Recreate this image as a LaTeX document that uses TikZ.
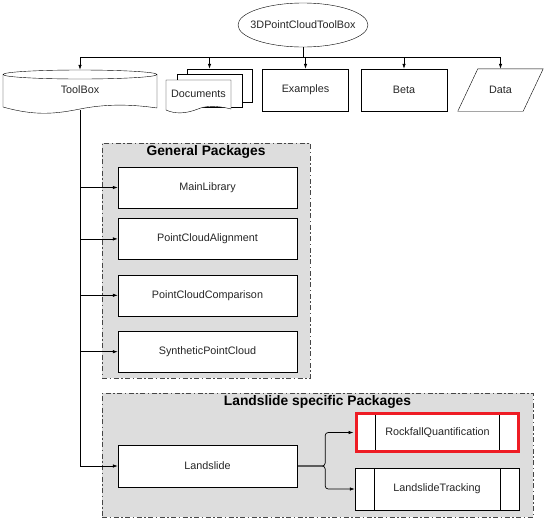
\documentclass[tikz,border=0pt]{standalone}
\usepackage{fontspec}
\setmainfont{Liberation Sans}
\usepackage{xcolor}
\usepackage{tikz}
\usetikzlibrary{calc, arrows.meta, positioning, shapes.geometric}
\definecolor{pkgfill}{RGB}{221,221,221}
\definecolor{pkgline}{RGB}{70,70,70}
\definecolor{markred}{RGB}{238,28,36}
\tikzset{
  txt/.style={font=\fontsize{10.8}{13}\selectfont, text=black!85},
  terminal/.style={ellipse,draw,txt,inner xsep=-14pt,minimum width=130pt,minimum height=44pt},
  plain/.style={rectangle,draw,txt,minimum width=86pt,minimum height=42pt},
  sheet/.style={rectangle,draw,fill=white,minimum width=65pt,minimum height=33pt},
  pkg/.style={rectangle,draw,fill=white,txt,minimum width=179pt,minimum height=41pt},
  proc/.style={rectangle,draw,fill=white,txt,minimum width=164pt,minimum height=42pt,
    path picture={
      \draw[black,line width=0.5pt] ([xshift=19pt]path picture bounding box.north west) -- ([xshift=19pt]path picture bounding box.south west);
      \draw[black,line width=0.5pt] ([xshift=-19pt]path picture bounding box.north east) -- ([xshift=-19pt]path picture bounding box.south east);}},
  group/.style={draw=pkgline,fill=pkgfill,line width=0.6pt,dash pattern=on 5pt off 2.5pt on 1.5pt off 2.5pt},
  grouptitle/.style={font=\fontsize{13.8}{16}\selectfont\bfseries},
  link/.style={-{Latex[length=5pt,width=3.5pt]}, line width=0.7pt}
}

\begin{document}
\begin{tikzpicture}[x=1pt,y=-1pt]
  \useasboundingbox (0,0) rectangle (550,523);
  \node[terminal] (Top) at (303,25) {3DPointCloudToolBox};
  \coordinate (Bus) at (303,57);

  \draw (3,74.5) -- (3,107) .. controls (35,116) and (55,114) .. (80,109) .. controls (105,104) and (130,104) .. (157,108) -- (157,74.5);
  \draw (80,74.5) ellipse [x radius=77pt, y radius=4.5pt];
  \node[txt, minimum width=154pt, minimum height=40pt] (Tool) at (80,90) {ToolBox};

  \node[sheet] (Doc3) at (219.5,85.5) {};
  \node[sheet] (Doc2) at (209.5,91) {};
  \draw[fill=white] (166,80) -- (231,80) -- (231,109) .. controls (215,105) and (205,106) .. (198,109) .. controls (185,114) and (175,114) .. (166,110) -- cycle;
  \node[txt] (Doc) at (198.5,94) {Documents};

  \node[plain] (Ex) at (305.5,90) {Examples};
  \node[plain] (Beta) at (404,90) {Beta};
  \node[txt, minimum width=65pt, minimum height=42pt] (Data) at (500.5,90) {Data};
  \draw ([xshift=-10pt]Data.south west) -- ([xshift=10pt]Data.north west) -- ([xshift=10pt]Data.north east) -- ([xshift=-10pt]Data.south east) -- cycle;

  \draw[line width=0.7pt] (Top.south) -- (Bus);
  \draw[line width=0.7pt] (Tool.north |- Bus) -- (Data.north |- Bus);
  \foreach \n in {Tool, Ex, Beta, Data}
    \draw[link] (\n.north |- Bus) -- (\n.north);
  \draw[link] (Doc2.north |- Bus) -- (Doc2.north |- Doc3.north);

  \node[group, minimum width=208pt, minimum height=235pt] (General) at (206,260.5) {};
  \node[grouptitle, below=-1pt of General.north] (GenTitle) {General Packages};
  \node[pkg] (Main) at (207.5,187.5) {MainLibrary};
  \node[pkg, below=10pt of Main] (Align) {PointCloudAlignment};
  \node[pkg, below=15pt of Align] (Comp) {PointCloudComparison};
  \node[pkg, below=15pt of Comp] (Syn) {SyntheticPointCloud};

  \node[group, minimum width=431pt, minimum height=124pt] (Slide) at (317.5,455) {};
  \node[grouptitle, below=-1pt of Slide.north] (SlideTitle) {Landslide specific Packages};
  \node[pkg, minimum height=42pt] (Land) at (207.5,466) {Landslide};
  \node[proc, draw=markred, line width=3pt, minimum width=162pt, minimum height=38pt] (Rock) at (437.5,432.5) {RockfallQuantification};
  \node[proc] (Track) at (437,489) {LandslideTracking};

  \draw[link] (Tool.south) |- (Land.west);
  \foreach \n in {Main, Align, Comp, Syn}
    \draw[link] (Tool.south |- \n.west) -- (\n.west);
  \coordinate (Split) at ([xshift=28pt]Land.east);
  \draw[link, rounded corners=3pt, shorten >=1.5pt] (Land.east) -- (Split) |- (Rock.west);
  \draw[link, rounded corners=3pt] (Land.east) -- (Split) |- (Track.west);
\end{tikzpicture}
\end{document}
